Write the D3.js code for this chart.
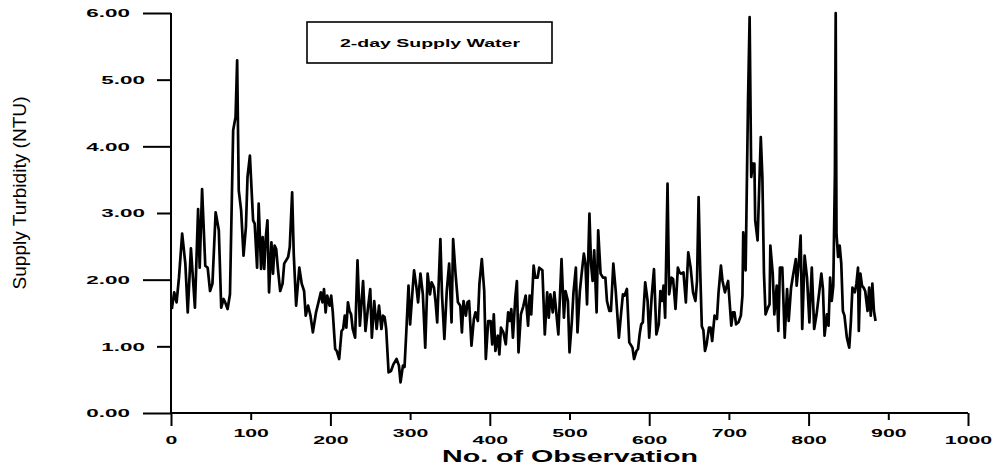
<!DOCTYPE html>
<html>
<head>
<meta charset="utf-8">
<script src="https://cdn.jsdelivr.net/npm/d3@7"></script>
<style>
  body { margin: 0; background: #fff; }
  svg { display: block; }
  text { font-family: "Liberation Sans", Arial, sans-serif; fill: #000; }
</style>
</head>
<body>
<script>
// observation number (x) and supply turbidity in NTU (y)
var obsNo = [
    1, 4, 7, 10, 14, 18, 21, 25, 30, 34,
    36, 39, 43, 46, 49, 52, 56, 60, 63, 66,
    68, 71, 74, 78, 81, 83, 85, 88, 91, 94,
    96, 99, 103, 105, 108, 110, 113, 115, 117, 119,
    121, 123, 126, 128, 130, 132, 134, 137, 140, 142,
    147, 149, 152, 154, 157, 161, 164, 167, 169, 172,
    175, 178, 182, 185, 188, 190, 192, 194, 196, 199,
    201, 203, 206, 208, 211, 214, 216, 218, 220, 222,
    224, 226, 228, 231, 234, 237, 241, 244, 247, 250,
    252, 255, 258, 261, 264, 266, 268, 270, 273, 276,
    279, 283, 286, 288, 291, 293, 295, 298, 300, 303,
    305, 308, 310, 313, 316, 319, 322, 325, 327, 330,
    332, 334, 338, 340, 343, 346, 349, 352, 354, 357,
    360, 363, 365, 367, 370, 372, 374, 377, 380, 382,
    385, 387, 390, 393, 395, 398, 401, 403, 405, 407,
    410, 412, 414, 417, 420, 423, 425, 427, 429, 432,
    434, 436, 439, 442, 445, 448, 450, 452, 455, 457,
    460, 462, 466, 469, 472, 474, 476, 479, 481, 483,
    486, 490, 493, 495, 498, 500, 503, 505, 508, 510,
    513, 515, 518, 520, 522, 525, 527, 529, 531, 534,
    536, 539, 542, 545, 547, 550, 552, 555, 558, 562,
    565, 567, 569, 572, 575, 579, 581, 584, 586, 588,
    590, 592, 595, 598, 600, 603, 606, 609, 612, 614,
    616, 618, 620, 623, 625, 628, 630, 633, 636, 638,
    640, 643, 646, 649, 652, 655, 658, 660, 662, 664,
    666, 668, 670, 672, 675, 677, 679, 682, 685, 687,
    690, 692, 695, 699, 703, 705, 707, 709, 712, 715,
    717, 718, 721, 724, 726, 728, 730, 732, 733, 736,
    740, 742, 744, 746, 749, 751, 752, 755, 757, 760,
    762, 764, 767, 770, 773, 775, 778, 780, 784, 785,
    788, 790, 792, 795, 798, 801, 804, 807, 810, 813,
    816, 818, 820, 823, 825, 827, 829, 831, 833, 834,
    835, 837, 839, 841, 843, 845, 848, 851, 853, 855,
    858, 860, 862, 863, 865, 867, 869, 871, 874, 876,
    878, 880, 882, 884
];
var turbidity = [
    1.56, 1.81, 1.66, 2.03, 2.69, 2.24, 1.51, 2.47, 1.58, 3.06,
    2.18, 3.36, 2.21, 2.18, 1.83, 1.94, 3.01, 2.74, 1.58, 1.71,
    1.66, 1.56, 1.78, 4.24, 4.44, 5.29, 3.34, 3.04, 2.36, 2.79,
    3.54, 3.86, 2.89, 2.84, 2.18, 3.14, 2.16, 2.64, 2.16, 2.64,
    2.89, 1.81, 2.56, 2.09, 2.51, 2.46, 2.18, 1.83, 1.94, 2.24,
    2.34, 2.49, 3.31, 2.39, 1.61, 2.18, 1.94, 1.83, 1.46, 1.61,
    1.46, 1.21, 1.51, 1.66, 1.81, 1.66, 1.86, 1.51, 1.76, 1.61,
    1.76, 1.51, 0.96, 0.93, 0.81, 1.23, 1.26, 1.46, 1.28, 1.66,
    1.53, 1.48, 1.26, 1.13, 2.29, 1.31, 1.98, 1.23, 1.56, 1.86,
    1.13, 1.68, 1.26, 1.61, 1.26, 1.46, 1.44, 1.26, 0.61, 0.63,
    0.73, 0.81, 0.71, 0.46, 0.71, 0.69, 1.16, 1.91, 1.33, 1.83,
    2.14, 1.88, 1.66, 2.09, 1.78, 0.98, 2.09, 1.78, 1.96, 1.88,
    1.66, 1.36, 2.61, 1.78, 1.11, 1.83, 2.24, 1.36, 2.61, 2.09,
    1.66, 1.61, 1.21, 1.68, 1.46, 1.66, 1.68, 1.01, 1.41, 1.51,
    1.38, 1.94, 2.31, 1.83, 0.81, 1.38, 1.38, 1.03, 1.48, 0.93,
    1.16, 0.88, 1.28, 1.21, 1.03, 1.51, 1.38, 1.56, 1.13, 1.73,
    1.98, 0.91, 1.48, 1.60, 1.76, 1.31, 1.76, 1.48, 2.21, 2.03,
    2.03, 2.18, 2.14, 1.18, 1.81, 1.43, 1.78, 1.51, 1.81, 1.56,
    1.18, 2.31, 1.43, 1.83, 1.68, 0.91, 1.38, 1.81, 2.18, 1.21,
    1.83, 2.06, 2.39, 2.24, 1.63, 2.99, 2.24, 1.98, 2.44, 1.51,
    2.74, 2.09, 2.03, 2.03, 1.68, 1.53, 1.53, 2.24, 1.83, 1.13,
    1.53, 1.78, 1.76, 1.86, 1.06, 0.98, 0.81, 0.93, 0.96, 1.18,
    1.33, 1.36, 1.96, 1.68, 1.13, 1.73, 2.16, 1.18, 1.33, 1.83,
    1.68, 1.91, 1.43, 3.44, 1.78, 2.03, 2.01, 1.56, 2.18, 2.11,
    2.09, 2.11, 1.66, 2.41, 2.18, 1.81, 1.68, 1.98, 3.24, 2.14,
    1.30, 1.24, 0.93, 1.03, 1.28, 1.28, 1.08, 1.46, 1.41, 1.81,
    2.21, 1.98, 1.81, 1.98, 1.31, 1.51, 1.51, 1.33, 1.36, 1.46,
    1.76, 2.71, 2.14, 4.69, 5.94, 3.54, 3.74, 3.74, 2.89, 2.59,
    4.14, 3.54, 2.09, 1.48, 1.58, 1.63, 2.51, 2.09, 1.48, 1.91,
    1.23, 2.18, 2.18, 1.13, 1.86, 1.38, 1.88, 2.03, 2.31, 1.91,
    2.29, 2.66, 1.26, 2.36, 2.03, 1.36, 2.18, 1.26, 1.48, 1.78,
    2.09, 1.86, 1.16, 1.48, 1.31, 2.03, 1.68, 1.91, 3.59, 6.00,
    2.69, 2.34, 2.51, 2.24, 1.53, 1.46, 1.13, 0.98, 1.36, 1.88,
    1.81, 1.94, 2.18, 1.23, 2.09, 1.91, 1.88, 1.83, 1.53, 1.88,
    1.46, 1.94, 1.53, 1.38
];

var xMajorTicks = [0, 200, 400, 600, 800, 1000];
var xMinorTicks = [100, 300, 500, 700, 900];
var yMajorTicks = [0, 2, 4, 6];
var yMinorTicks = [1, 3, 5];

var data = obsNo.map(function (d, i) { return { obs: d, value: turbidity[i] }; });

var width = 997, height = 468;
var stretchY = 1.95;   // tick labels in the picture are drawn wide
var stretchX = 1.85;

var svg = d3.select("body")
    .append("svg")
    .attr("width", width)
    .attr("height", height);

var x = d3.scaleLinear()
    .domain([0, 1000])
    .range([171, 968]);

var y = d3.scaleLinear()
    .domain([0, 6])
    .range([413, 13]);

// line
var line = d3.line()
    .x(function (d) { return x(d.obs); })
    .y(function (d) { return y(d.value); });

svg.append("path")
    .datum(data)
    .attr("fill", "none")
    .attr("stroke", "#000")
    .attr("stroke-width", 2.7)
    .attr("stroke-linejoin", "round")
    .attr("d", line);

function styleAxis(g) {
    g.select(".domain").remove();
    g.selectAll("line").attr("stroke", "#000").attr("stroke-width", 2);
    g.selectAll("text")
        .attr("font-size", 11.5)
        .attr("font-weight", "bold");
}

// Y axis, long and short ticks
function yAxis(ticks, size, pad) {
    var g = svg.append("g")
        .attr("transform", "translate(" + x(0) + ",0)")
        .call(d3.axisLeft(y).tickValues(ticks).tickSize(size).tickPadding(pad)
            .tickFormat(d3.format(".2f")));
    styleAxis(g);
    g.selectAll("text").each(function () {
        var t = d3.select(this);
        var tx = +t.attr("x");
        t.attr("x", 0).attr("transform", "translate(" + tx + ",0) scale(" + stretchY + ",1)");
    });
}
yAxis(yMajorTicks, 28, 13);
yAxis(yMinorTicks, 14, 12);

// X axis, long and short ticks with staggered labels
function xAxis(ticks, size, pad) {
    var g = svg.append("g")
        .attr("transform", "translate(0," + y(0) + ")")
        .call(d3.axisBottom(x).tickValues(ticks).tickSize(size).tickPadding(pad)
            .tickFormat(d3.format("d")));
    styleAxis(g);
    g.selectAll("text").attr("transform", "scale(" + stretchX + ",1)");
}
xAxis(xMajorTicks, 13, 10);
xAxis(xMinorTicks, 7, 9);

// axis lines
svg.append("line")
    .attr("x1", x(0)).attr("x2", x(0))
    .attr("y1", y(6)).attr("y2", y(0))
    .attr("stroke", "#000").attr("stroke-width", 2);
svg.append("line")
    .attr("x1", x(0)).attr("x2", x(1000))
    .attr("y1", y(0)).attr("y2", y(0))
    .attr("stroke", "#000").attr("stroke-width", 2);

// axis titles
svg.append("text")
    .attr("x", 570)
    .attr("y", 462)
    .attr("text-anchor", "middle")
    .attr("font-size", 16)
    .attr("font-weight", "bold")
    .attr("textLength", 256)
    .attr("lengthAdjust", "spacingAndGlyphs")
    .text("No. of Observation");

svg.append("text")
    .attr("transform", "translate(26,193) rotate(-90)")
    .attr("text-anchor", "middle")
    .attr("font-size", 19)
    .attr("textLength", 193)
    .attr("lengthAdjust", "spacingAndGlyphs")
    .text("Supply Turbidity (NTU)");

// legend box
svg.append("rect")
    .attr("x", 307).attr("y", 22)
    .attr("width", 245).attr("height", 41)
    .attr("fill", "#fff")
    .attr("stroke", "#000")
    .attr("stroke-width", 1.6);

svg.append("text")
    .attr("x", 430)
    .attr("y", 47)
    .attr("text-anchor", "middle")
    .attr("font-size", 11)
    .attr("font-weight", "bold")
    .attr("textLength", 180)
    .attr("lengthAdjust", "spacingAndGlyphs")
    .text("2-day Supply Water");
</script>
</body>
</html>
